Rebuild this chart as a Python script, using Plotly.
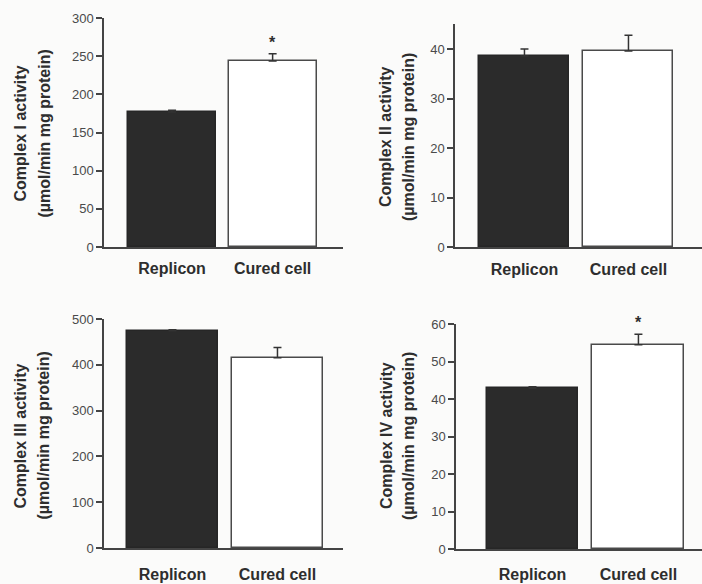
import plotly.graph_objects as go

W, H = 702, 584

categories = ["Replicon", "Cured cell"]

complex_names = ["Complex I activity", "Complex II activity",
                 "Complex III activity", "Complex IV activity"]
unit_label = "(µmol/min mg protein)"

means_c1 = [177, 243.6]
errs_c1 = [2.0, 9.6]
means_c2 = [38.6, 39.6]
errs_c2 = [1.4, 3.2]
means_c3 = [474.5, 415.5]
errs_c3 = [2.0, 22.5]
means_c4 = [42.9, 54.5]
errs_c4 = [0.4, 2.8]

significant_c1 = [False, True]
significant_c2 = [False, False]
significant_c3 = [False, False]
significant_c4 = [False, True]

y_ranges = [[0, 300], [0, 45.05], [0, 500], [0, 60]]
y_dtick = [50, 10, 100, 10]

means = [means_c1, means_c2, means_c3, means_c4]
errs = [errs_c1, errs_c2, errs_c3, errs_c4]
sigs = [significant_c1, significant_c2, significant_c3, significant_c4]

# layout in pixels: (x_left, x_right, y_top, y_bottom), x-range, bar width
panels = [
    dict(px=(104, 343, 18, 247), xr=[-0.677, 1.70], bw=0.876, so=6, t1=(19.5, 134), t2=(43.5, 134)),
    dict(px=(455, 702, 24, 247), xr=[-0.668, 1.707], bw=0.865, so=7, t1=(385, 137), t2=(408, 137)),
    dict(px=(104, 343, 319, 548), xr=[-0.652, 1.624], bw=0.867, so=11, t1=(19.5, 436), t2=(42.5, 436)),
    dict(px=(456, 702, 324, 549), xr=[-0.722, 1.60], bw=0.868, so=10, t1=(386, 436), t2=(408, 436)),
]

FONT = "Liberation Sans, Arial, Helvetica, sans-serif"
AXC = "#444444"

def fx(px):
    return px / W

def fy(py):
    return 1 - py / H

fig = go.Figure()
annotations = []
layout = {}

for i, p in enumerate(panels):
    n = "" if i == 0 else str(i + 1)
    xl, xr_, yt, yb = p["px"]
    fig.add_trace(go.Bar(
        x=categories, y=means[i],
        xaxis="x" + n, yaxis="y" + n,
        width=p["bw"],
        marker=dict(color=["#2b2b2b", "#ffffff"],
                    line=dict(color=["#262626", "#4a4a4a"], width=1.5)),
        error_y=dict(type="data", array=errs[i], arrayminus=[0, 0],
                     symmetric=False, color="#333333", thickness=1.5, width=4),
        showlegend=False,
    ))
    layout["xaxis" + n] = dict(
        domain=[fx(xl), fx(xr_)], anchor="y" + n, range=p["xr"],
        type="category", showline=True, linecolor=AXC, linewidth=1.5,
        ticks="", showgrid=False, zeroline=False,
        tickfont=dict(family=FONT, size=16, color="#2e2e2e", weight="bold"),
        ticklabelstandoff=p["so"],
    )
    layout["yaxis" + n] = dict(
        domain=[fy(yb), fy(yt)], anchor="x" + n, range=y_ranges[i],
        dtick=y_dtick[i], tick0=0,
        showline=True, linecolor=AXC, linewidth=1.5,
        ticks="outside", ticklen=6, tickwidth=1.5, tickcolor=AXC,
        showgrid=False, zeroline=False,
        tickfont=dict(family=FONT, size=13, color="#4a4a4a"),
    )
    for (tx, ty), txt in ((p["t1"], complex_names[i]), (p["t2"], unit_label)):
        annotations.append(dict(
            x=fx(tx), y=fy(ty), xref="paper", yref="paper",
            text=txt, textangle=-90, showarrow=False,
            xanchor="center", yanchor="middle",
            font=dict(family=FONT, size=16, color="#2e2e2e", weight="bold"),
        ))
    for j, s in enumerate(sigs[i]):
        if s:
            annotations.append(dict(
                x=categories[j], y=means[i][j] + errs[i][j],
                xref="x" + n, yref="y" + n,
                text="*", showarrow=False, yanchor="bottom", yshift=1,
                font=dict(family=FONT, size=16, color="#2e2e2e", weight="bold"),
            ))

fig.update_layout(
    width=W, height=H, autosize=False,
    margin=dict(l=0, r=0, t=0, b=0, autoexpand=False),
    paper_bgcolor="#fbfbfa", plot_bgcolor="rgba(0,0,0,0)",
    annotations=annotations,
    bargap=0,
    **layout,
)

post = (
    "document.documentElement.style.margin='0';"
    "document.documentElement.style.padding='0';"
    "document.documentElement.style.overflow='hidden';"
    "document.body.style.margin='0';"
    "document.body.style.padding='0';"
    "document.body.style.overflow='hidden';"
    "var gd=document.getElementById('{plot_id}');"
    "Plotly.relayout(gd,{width:%d,height:%d});" % (W, H)
)

fig.write_html("out.html",
               config={"responsive": False, "displayModeBar": False},
               post_script=post)
